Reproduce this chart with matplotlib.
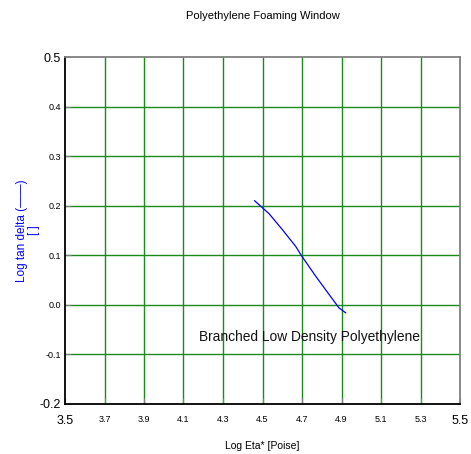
import matplotlib
matplotlib.use("Agg")
import matplotlib.pyplot as plt

plt.rcParams['font.family'] = ['Liberation Sans', 'DejaVu Sans']

log_eta = [4.460, 4.491, 4.533, 4.600, 4.668, 4.696, 4.769, 4.837, 4.887, 4.921]
log_tan_delta = [0.210, 0.199, 0.184, 0.152, 0.118, 0.100, 0.058, 0.021, -0.006, -0.016]

x_ticks = [3.5, 3.7, 3.9, 4.1, 4.3, 4.5, 4.7, 4.9, 5.1, 5.3, 5.5]
y_ticks = [-0.2, -0.1, 0.0, 0.1, 0.2, 0.3, 0.4, 0.5]

fig = plt.figure(figsize=(4.71, 4.54), dpi=100)
W, H = 471, 454
ax = fig.add_axes([65 / W, 1 - 404 / H, (460 - 65) / W, (404 - 57) / H])

ax.set_xlim(3.5, 5.5)
ax.set_ylim(-0.2, 0.5)

for xv in x_ticks[1:-1]:
    ax.axvline(xv, color='#1a8a1a', lw=1.0, zorder=1)
for yv in y_ticks[1:-1]:
    ax.axhline(yv, color='#1a8a1a', lw=1.0, zorder=1)

ax.plot(log_eta, log_tan_delta, color='#0000ff', lw=0.9, zorder=3)

ax.text(4.178, -0.065, 'Branched Low Density Polyethylene', fontsize=9.9,
        color='#111111', va='center', ha='left', zorder=4)

ax.set_xticks(x_ticks)
ax.set_yticks(y_ticks)
ax.set_xticklabels([f'{v:.1f}' for v in x_ticks])
ax.set_yticklabels([f'{v:.1f}' for v in y_ticks])
for i, lab in enumerate(ax.get_xticklabels()):
    lab.set_fontsize(9 if i in (0, len(x_ticks) - 1) else 6.5)
for i, lab in enumerate(ax.get_yticklabels()):
    lab.set_fontsize(9 if i in (0, len(y_ticks) - 1) else 6.5)

ax.tick_params(axis='x', direction='in', length=4, color='#808080', pad=8)
ax.tick_params(axis='y', direction='in', length=4, color='#808080', pad=3)

ax.spines['left'].set_color('black')
ax.spines['bottom'].set_color('black')
ax.spines['top'].set_color('#808080')
ax.spines['right'].set_color('#808080')
for s in ax.spines.values():
    s.set_linewidth(1.3)

ax.set_xlabel('Log Eta* [Poise]', fontsize=7.5, labelpad=10)
ax.set_ylabel('Log tan delta (\u2014\u2014)\n[ ]', fontsize=8.5, color='#0000ff',
              linespacing=1.0)
ax.yaxis.set_label_coords((40 - 65) / 395, 0.5)

fig.text((65 + 460) / 2 / W, 1 - 16 / H, 'Polyethylene Foaming Window',
         ha='center', va='center', fontsize=8)

fig.savefig('out.png', dpi=100)
